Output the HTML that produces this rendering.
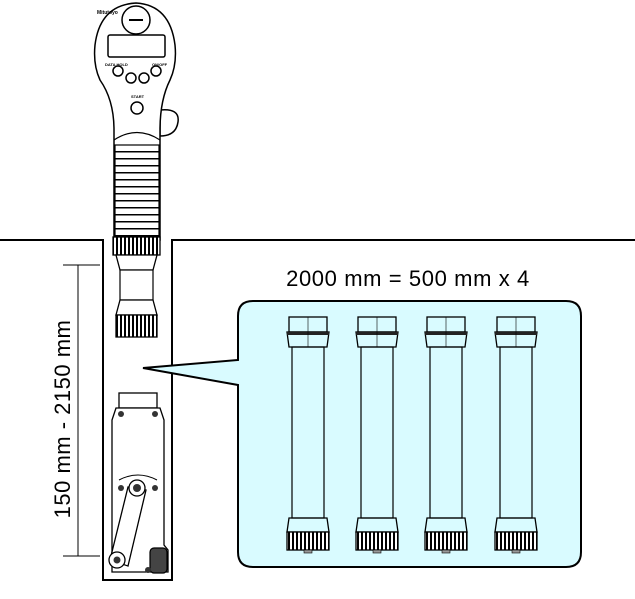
<!DOCTYPE html>
<html><head><style>html,body{margin:0;padding:0;background:#fff}svg{display:block}</style></head>
<body>
<svg width="635" height="599" viewBox="0 0 635 599" xmlns="http://www.w3.org/2000/svg" font-family="Liberation Sans, sans-serif">
<defs>
<pattern id="kn" width="4" height="10" patternUnits="userSpaceOnUse"><rect width="4" height="10" fill="#fff"/><rect width="2" height="10" fill="#000"/></pattern>
<pattern id="rib" width="10" height="7" patternUnits="userSpaceOnUse"><rect width="10" height="7" fill="#fff"/><rect y="4" width="10" height="1.5" fill="#000"/></pattern>
<g id="tube">
<rect x="-19" y="0" width="38" height="15" fill="none" stroke="#000" stroke-width="1.3"/>
<path d="M-21 15 H21 L19 30 H-19 Z" fill="none" stroke="#000" stroke-width="1.3"/>
<rect x="-21" y="15" width="42" height="3" fill="#222"/>
<rect x="-16" y="30" width="32" height="171" fill="none" stroke="#000" stroke-width="1.2"/>
<path d="M-19 201 H19 L21 215 H-21 Z" fill="none" stroke="#000" stroke-width="1.3"/>
<rect x="-21" y="215" width="42" height="18" fill="url(#kn)" stroke="#000" stroke-width="1.3"/>
<rect x="-4" y="233" width="8" height="3" fill="#999" stroke="#000" stroke-width="0.6"/>
<line x1="0" y1="0" x2="0" y2="30" stroke="#000" stroke-width="0.6"/>
</g>
</defs>
<path d="M0 240 H103 V580 H172 V240 H635" fill="none" stroke="#000" stroke-width="2"/>
<line x1="63" y1="265" x2="100" y2="265" stroke="#000" stroke-width="1"/>
<line x1="63" y1="556" x2="100" y2="556" stroke="#000" stroke-width="1"/>
<line x1="78" y1="265" x2="78" y2="556" stroke="#000" stroke-width="1"/>
<text transform="translate(70,419) rotate(-90)" text-anchor="middle" font-size="22" letter-spacing="0.5">150 mm - 2150 mm</text>
<path d="M253 301 H566 Q581 301 581 316 V552 Q581 567 566 567 H253 Q238 567 238 552 V385 L143 368 L238 360 V316 Q238 301 253 301 Z" fill="#d9fbff" stroke="#000" stroke-width="2"/>
<text x="408" y="286" text-anchor="middle" font-size="22" letter-spacing="0.6">2000 mm = 500 mm x 4</text>
<use href="#tube" x="308" y="317"/>
<use href="#tube" x="377" y="317"/>
<use href="#tube" x="446" y="317"/>
<use href="#tube" x="516" y="317"/>
<path d="M160 110 Q180 108 178 122 Q176 136 160 136 Z" fill="#fff" stroke="#000" stroke-width="1.5"/>
<path d="M114 240 V130 Q114 100 100 80 Q93 65 95 45 Q100 5 136 3 Q170 5 175 45 Q177 65 170 80 Q160 100 160 130 V240 Z" fill="#fff" stroke="#000" stroke-width="1.5"/>
<circle cx="136" cy="20" r="14" fill="#fff" stroke="#000" stroke-width="1.5"/>
<line x1="129" y1="20" x2="143" y2="20" stroke="#000" stroke-width="2"/>
<rect x="108" y="35" width="57" height="22" rx="2" fill="#fff" stroke="#000" stroke-width="1.5"/>
<circle cx="118" cy="71" r="5" fill="#fff" stroke="#000" stroke-width="1.5"/>
<circle cx="131" cy="78" r="5" fill="#fff" stroke="#000" stroke-width="1.5"/>
<circle cx="144" cy="78" r="5" fill="#fff" stroke="#000" stroke-width="1.5"/>
<circle cx="156" cy="71" r="5" fill="#fff" stroke="#000" stroke-width="1.5"/>
<circle cx="137" cy="108" r="6" fill="#fff" stroke="#000" stroke-width="1.5"/>
<text x="97" y="14" font-size="5" font-weight="bold">Mitutoyo</text>
<text x="105" y="66" font-size="4" font-weight="bold">DATA HOLD</text>
<text x="152" y="66" font-size="4" font-weight="bold">ON/OFF</text>
<text x="131" y="98" font-size="4" font-weight="bold">START</text>
<path d="M114 140 Q137 125 160 140" fill="none" stroke="#000" stroke-width="1.2"/>
<rect x="115" y="145" width="44" height="92" fill="url(#rib)" stroke="#000" stroke-width="1.2"/>
<rect x="113" y="237" width="47" height="18" fill="url(#kn)" stroke="#000" stroke-width="1.3"/>
<path d="M116 255 H157 L153 270 H120 Z" fill="#fff" stroke="#000" stroke-width="1.3"/>
<rect x="120" y="270" width="33" height="30" fill="#fff" stroke="#000" stroke-width="1.2"/>
<path d="M120 300 H153 L157 315 H116 Z" fill="#fff" stroke="#000" stroke-width="1.3"/>
<rect x="116" y="315" width="41" height="22" fill="url(#kn)" stroke="#000" stroke-width="1.3"/>
<rect x="119" y="393" width="38" height="15" fill="#fff" stroke="#000" stroke-width="1.3"/>
<path d="M116 408 H160 L164 420 V545 L168 550 V572 H112 V420 Z" fill="#fff" stroke="#000" stroke-width="1.3"/>
<path d="M119 480 Q138 470 157 480" fill="none" stroke="#000" stroke-width="1"/>
<circle cx="121" cy="414" r="3" fill="#333"/><circle cx="155" cy="414" r="3" fill="#333"/>
<circle cx="121" cy="488" r="3" fill="#333"/><circle cx="155" cy="488" r="3" fill="#333"/>
<path d="M128 487 L110 560 L128 566 L146 490 Z" fill="#fff" stroke="#000" stroke-width="1.3"/>
<circle cx="137" cy="488" r="8" fill="#fff" stroke="#000" stroke-width="1.3"/>
<circle cx="137" cy="488" r="4" fill="#333"/>
<circle cx="117" cy="560" r="8" fill="#fff" stroke="#000" stroke-width="1.3"/>
<circle cx="117" cy="560" r="3.5" fill="#333"/>
<rect x="150" y="548" width="17" height="25" rx="4" fill="#444" stroke="#000" stroke-width="1.2"/>
<circle cx="148" cy="570" r="3" fill="#333"/>
</svg>
</body></html>
